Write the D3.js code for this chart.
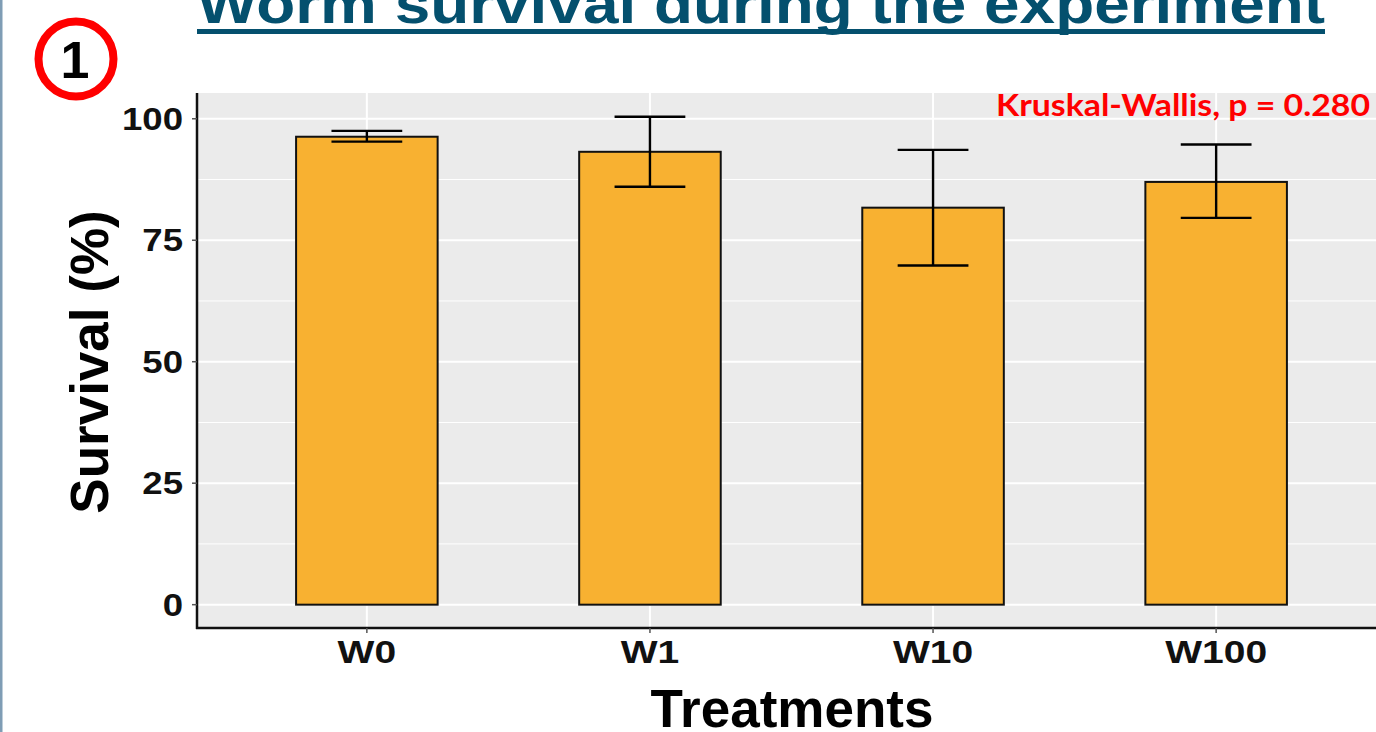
<!DOCTYPE html>
<html><head><meta charset="utf-8">
<script src="https://cdn.jsdelivr.net/npm/d3@7"></script>
<style>body{margin:0;background:#fff;overflow:hidden}</style>
</head><body>
<svg id="c" width="1376" height="732"></svg>
<script>
const categories = ["W0", "W1", "W10", "W100"];
const meanValues = [96.3, 93.2, 81.7, 87.0];
const errLow = [95.3, 86.0, 69.8, 79.6];
const errHigh = [97.5, 100.4, 93.6, 94.7];
const yTicks = [0, 25, 50, 75, 100];
const yMinor = [12.5, 37.5, 62.5, 87.5];

const svg = d3.select("#c");
const W = 1376, H = 732;
const L = 197, R = 1386, T = 93, B = 628;

// left slide border
svg.append("rect").attr("x",0).attr("y",0).attr("width",2.5).attr("height",H).attr("fill","#7f9db5");

// ggplot-style discrete scale: 0.6 expansion on each side
const x = d3.scalePoint().domain(categories).range([L, R]).padding(0.6);
const y = d3.scaleLinear().domain([-4.8, 105.3]).range([B, T]);
const step = x.step();

// panel
svg.append("rect").attr("x",L).attr("y",T).attr("width",R-L).attr("height",B-T).attr("fill","#ebebeb");
svg.selectAll(".gmin").data(yMinor).join("line")
  .attr("x1",L).attr("x2",R).attr("y1",d=>y(d)).attr("y2",d=>y(d))
  .attr("stroke","#fff").attr("stroke-width",1);
svg.selectAll(".gmaj").data(yTicks).join("line")
  .attr("x1",L).attr("x2",R).attr("y1",d=>y(d)).attr("y2",d=>y(d))
  .attr("stroke","#fff").attr("stroke-width",2);
svg.selectAll(".gx").data(categories).join("line")
  .attr("x1",d=>x(d)).attr("x2",d=>x(d)).attr("y1",T).attr("y2",B)
  .attr("stroke","#fff").attr("stroke-width",2);

const bw = step * 0.5;
svg.selectAll(".bar").data(categories).join("rect")
  .attr("x",d=>x(d)-bw/2).attr("width",bw)
  .attr("y",(d,i)=>y(meanValues[i])).attr("height",(d,i)=>y(0)-y(meanValues[i]))
  .attr("fill","#f8b131").attr("stroke","#111").attr("stroke-width",2);

const cap = step * 0.25;
const eb = svg.append("g").attr("stroke","#000").attr("stroke-width",2.4);
categories.forEach((d,i)=>{
  eb.append("line").attr("x1",x(d)).attr("x2",x(d)).attr("y1",y(errLow[i])).attr("y2",y(errHigh[i]));
  eb.append("line").attr("x1",x(d)-cap/2).attr("x2",x(d)+cap/2).attr("y1",y(errLow[i])).attr("y2",y(errLow[i]));
  eb.append("line").attr("x1",x(d)-cap/2).attr("x2",x(d)+cap/2).attr("y1",y(errHigh[i])).attr("y2",y(errHigh[i]));
});

// axes
svg.append("line").attr("x1",L).attr("x2",L).attr("y1",T).attr("y2",B+1).attr("stroke","#111").attr("stroke-width",2.5);
svg.append("line").attr("x1",L-1).attr("x2",R).attr("y1",B).attr("y2",B).attr("stroke","#111").attr("stroke-width",2.5);
svg.selectAll(".yt").data(yTicks).join("line")
  .attr("x1",L-5).attr("x2",L).attr("y1",d=>y(d)).attr("y2",d=>y(d)).attr("stroke","#555").attr("stroke-width",1.5);
svg.selectAll(".xt").data(categories).join("line")
  .attr("x1",d=>x(d)).attr("x2",d=>x(d)).attr("y1",B).attr("y2",B+5).attr("stroke","#555").attr("stroke-width",1.5);

const font = "'Liberation Sans', Arial, sans-serif";
svg.selectAll(".yl").data(yTicks).join("text")
  .attr("transform",d=>`translate(${L-14},${y(d)+11}) scale(1.18,1)`).attr("text-anchor","end")
  .attr("font-family",font).attr("font-weight","bold").attr("font-size",31).attr("fill","#111")
  .text(d=>d);
svg.selectAll(".xl").data(categories).join("text")
  .attr("transform",d=>`translate(${x(d)},${B+35}) scale(1.22,1)`).attr("text-anchor","middle")
  .attr("font-family",font).attr("font-weight","bold").attr("font-size",32).attr("fill","#111")
  .text(d=>d);

svg.append("text").attr("x",792).attr("y",727).attr("text-anchor","middle")
  .attr("font-family",font).attr("font-weight","bold").attr("font-size",53).attr("fill","#000").text("Treatments");
svg.append("text").attr("transform","translate(108,362) rotate(-90)").attr("text-anchor","middle")
  .attr("font-family",font).attr("font-weight","bold").attr("font-size",53).attr("fill","#000").text("Survival (%)");

svg.append("text").attr("x",996).attr("y",116)
  .attr("font-family","Lato, 'Open Sans', sans-serif").attr("font-weight","bold").attr("font-size",31).attr("fill","#f00")
  .attr("textLength",374).attr("lengthAdjust","spacingAndGlyphs")
  .text("Kruskal-Wallis, p = 0.280");

// title
svg.append("text").attr("x",197).attr("y",23)
  .attr("font-family",font).attr("font-weight","bold").attr("font-size",56).attr("fill","#04506e")
  .attr("textLength",1128).attr("lengthAdjust","spacingAndGlyphs")
  .text("Worm survival during the experiment");
svg.append("rect").attr("x",197).attr("y",29).attr("width",1128).attr("height",5).attr("fill","#04506e");

// circled number
svg.append("circle").attr("cx",76).attr("cy",59).attr("r",37.5).attr("fill","none").attr("stroke","#f00").attr("stroke-width",8);
svg.append("text").attr("x",75).attr("y",78).attr("text-anchor","middle")
  .attr("font-family",font).attr("font-weight","bold").attr("font-size",52).attr("fill","#000").text("1");
</script>
</body></html>
